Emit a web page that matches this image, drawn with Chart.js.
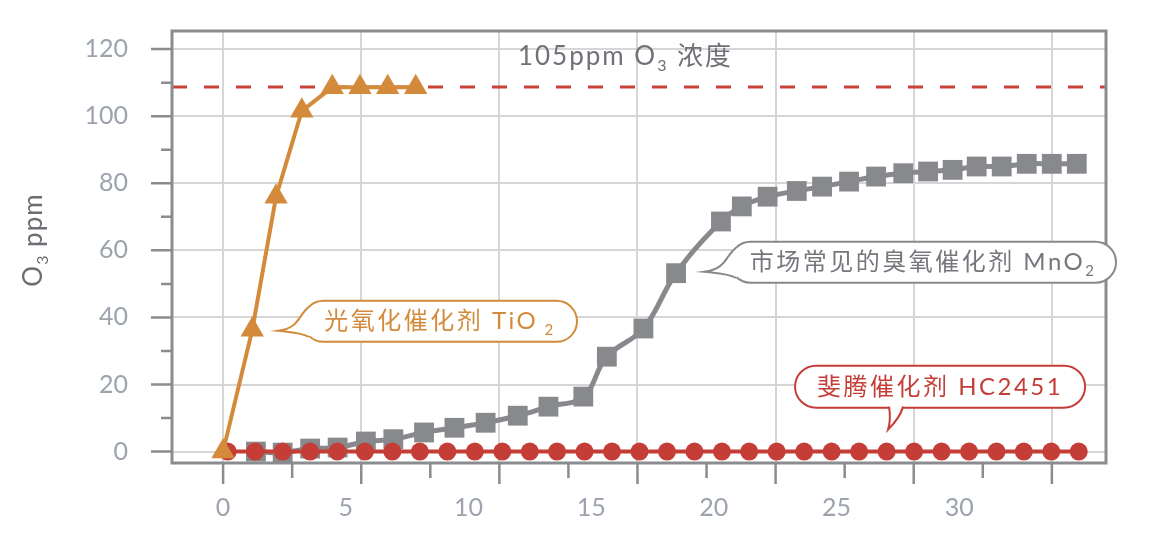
<!DOCTYPE html>
<html>
<head>
<meta charset="utf-8">
<script src="https://cdn.jsdelivr.net/npm/chart.js@4.4.1/dist/chart.umd.min.js"></script>
<style>
  html, body { margin: 0; padding: 0; background: #fff; }
</style>
</head>
<body>
<canvas id="o3Chart" width="1150" height="548"></canvas>
<script>
// tick labels (x labels and the grid lines use different spacings in the original)
const xTickLabels = [0, 5, 10, 15, 20, 25, 30];
const yTickLabels = [0, 20, 40, 60, 80, 100, 120];
const gridSteps = [0, 5, 10, 15, 20, 25, 30];

// 光氧化催化剂 TiO2
const tioX = [0, 1.19, 2.16, 3.21, 4.45, 5.58, 6.71, 7.85];
const tioY = [0, 36.3, 76.0, 101.6, 108.6, 108.6, 108.6, 108.6];

// 市场常见的臭氧催化剂 MnO2
const mnoX = [1.34, 2.43, 3.55, 4.67, 5.82, 6.94, 8.19, 9.43, 10.70, 12.01, 13.26, 14.68, 15.64, 17.13, 18.46,
              20.29, 21.14, 22.19, 23.38, 24.41, 25.51, 26.61, 27.72, 28.73, 29.73, 30.71, 31.73, 32.75, 33.77, 34.79];
const mnoY = [0, -0.3, 0.9, 1.2, 3.0, 3.7, 5.7, 7.1, 8.6, 10.7, 13.4, 16.4, 28.3, 36.7, 53.2,
              68.6, 73.1, 76.0, 77.7, 79.0, 80.5, 82.0, 83.0, 83.5, 84.0, 85.0, 85.0, 85.8, 85.8, 85.8];

// 斐腾催化剂 HC2451
const hcX = [0.19, 1.31, 2.43, 3.55, 4.66, 5.78, 6.90, 8.02, 9.14, 10.26, 11.38, 12.50, 13.61, 14.73, 15.85, 16.97,
             18.09, 19.21, 20.33, 21.44, 22.56, 23.68, 24.80, 25.92, 27.04, 28.16, 29.28, 30.40, 31.52, 32.63, 33.75, 34.87];
const hcY = [0, 0, 0, 0, 0, 0, 0, 0, 0, 0, 0, 0, 0, 0, 0, 0,
             0, 0, 0, 0, 0, 0, 0, 0, 0, 0, 0, 0, 0, 0, 0, 0];

const limitValue = 108.7; // 105ppm O3 浓度

const FONT = "Lato, 'Noto Sans CJK SC', sans-serif";
const AXIS_GREY = '#8b8c90';
const GRID_GREY = '#d6d6d6';
const ORANGE = '#d38b3b';
const RED = '#c53d37';
const GREY = '#88898d';

const callouts = [
  { parts: [['光氧化催化剂 TiO', 0], [' 2', 1]], color: ORANGE, at: [2.24, 36.0], dx: 25, dy: -30, w: 274, h: 41, tail: 'left' },
  { parts: [['市场常见的臭氧催化剂 MnO', 0], ['2', 1]], color: '#75777c', border: GREY, at: [19.6, 53.6], dx: 26, dy: -30, w: 386, h: 41, tail: 'left' },
  { parts: [['斐腾催化剂 HC2451', 0]], color: RED, at: [27.1, 6.55], dx: -93, dy: -64, w: 290, h: 42, tail: 'bottom' }
];

const toPoints = (xs, ys) => xs.map((x, i) => ({ x: x, y: ys[i] }));

function drawRich(ctx, parts, x, y, size, align) {
  const subSize = Math.round(size * 0.62);
  const widths = parts.map(([t, sub]) => {
    ctx.font = (sub ? subSize : size) + 'px ' + FONT;
    return ctx.measureText(t).width;
  });
  const total = widths.reduce((a, b) => a + b, 0);
  let cx = align === 'center' ? x - total / 2 : x;
  ctx.textAlign = 'left';
  ctx.textBaseline = 'alphabetic';
  parts.forEach(([t, sub], i) => {
    ctx.font = (sub ? subSize : size) + 'px ' + FONT;
    ctx.fillText(t, cx, y + (sub ? size * 0.22 : 0));
    cx += widths[i];
  });
}

function tailPath(ctx, c, bx, by, tx, ty) {
  if (c.tail === 'left') {
    ctx.moveTo(bx + 6, by + 6);
    ctx.bezierCurveTo(bx - 5, by + 14, bx - 3, by + 27, tx, ty);
    ctx.bezierCurveTo(tx + 14, ty + 1.5, bx - 3, ty + 1.5, bx + 6, by + c.h - 5);
  } else {
    const base = by + c.h;
    ctx.moveTo(tx + 1, base - 1);
    ctx.quadraticCurveTo(tx + 3, ty - 10, tx, ty);
    ctx.quadraticCurveTo(tx + 12, ty - 12, tx + 15, base - 1);
  }
}

function drawCallout(ctx, c, tx, ty) {
  const bx = tx + c.dx, by = ty + c.dy, w = c.w, h = c.h, r = h / 2;
  const edge = c.border || c.color;
  ctx.save();
  ctx.lineWidth = 2;
  ctx.strokeStyle = edge;
  ctx.fillStyle = '#fff';
  ctx.beginPath();
  ctx.moveTo(bx + r, by);
  ctx.lineTo(bx + w - r, by);
  ctx.arc(bx + w - r, by + r, r, -Math.PI / 2, Math.PI / 2);
  ctx.lineTo(bx + r, by + h);
  ctx.arc(bx + r, by + r, r, Math.PI / 2, Math.PI * 1.5);
  ctx.closePath();
  ctx.fill();
  ctx.stroke();

  // white patch so the tail joins the pill
  ctx.beginPath();
  tailPath(ctx, c, bx, by, tx, ty);
  if (c.tail === 'left') ctx.lineTo(bx + 20, by + h / 2);
  else ctx.lineTo(tx + 8, by + h - 8);
  ctx.closePath();
  ctx.fill();
  ctx.beginPath();
  tailPath(ctx, c, bx, by, tx, ty);
  ctx.stroke();

  ctx.fillStyle = c.color;
  ctx.letterSpacing = '2.5px';
  drawRich(ctx, c.parts, bx + w / 2, by + h / 2 + 8, 24, 'center');
  ctx.restore();
}

const decorPlugin = {
  id: 'decor',
  beforeDatasetsDraw(chart) {
    const { ctx, chartArea: a, scales } = chart;
    const y = scales.y, xg = scales.xg;
    ctx.save();
    // 105ppm reference line
    const ly = y.getPixelForValue(limitValue);
    ctx.strokeStyle = '#c8423c';
    ctx.lineWidth = 3;
    ctx.setLineDash([15, 17]);
    ctx.beginPath();
    ctx.moveTo(a.left, ly);
    ctx.lineTo(a.right, ly);
    ctx.stroke();
    ctx.setLineDash([]);

    // frame
    ctx.strokeStyle = AXIS_GREY;
    ctx.lineWidth = 3;
    ctx.strokeRect(a.left, a.top, a.right - a.left, a.bottom - a.top);

    // tick marks, major + minor
    ctx.lineWidth = 2.5;
    ctx.beginPath();
    yTickLabels.forEach((v, i) => {
      const p = y.getPixelForValue(v);
      ctx.moveTo(a.left - 21, p); ctx.lineTo(a.left, p);
      if (i > 0) {
        const m = y.getPixelForValue((v + yTickLabels[i - 1]) / 2);
        ctx.moveTo(a.left - 11, m); ctx.lineTo(a.left, m);
      }
    });
    gridSteps.forEach((v, i) => {
      const p = xg.getPixelForValue(v);
      ctx.moveTo(p, a.bottom); ctx.lineTo(p, a.bottom + 21);
      if (i > 0) {
        const m = xg.getPixelForValue((v + gridSteps[i - 1]) / 2);
        ctx.moveTo(m, a.bottom); ctx.lineTo(m, a.bottom + 15);
      }
    });
    ctx.stroke();
    ctx.restore();
  },
  afterDatasetsDraw(chart) {
    const { ctx, chartArea: a, scales } = chart;
    ctx.save();
    // label of the dashed line
    ctx.fillStyle = '#6e7177';
    ctx.letterSpacing = '2px';
    drawRich(ctx, [['105ppm O', 0], ['3', 1], [' 浓度', 0]], scales.x.getPixelForValue(16.4), a.top + 34, 26, 'center');

    // y axis title
    ctx.letterSpacing = '1px';
    ctx.translate(42, (a.top + a.bottom) / 2 - 7);
    ctx.rotate(-Math.PI / 2);
    ctx.fillStyle = '#6b6e73';
    drawRich(ctx, [['O', 0], ['3', 1], [' ppm', 0]], 0, 0, 26, 'center');
    ctx.restore();

    callouts.forEach(c => {
      drawCallout(ctx, c, scales.x.getPixelForValue(c.at[0]), scales.y.getPixelForValue(c.at[1]));
    });
  }
};

const tickFont = { family: FONT, size: 25 };

new Chart(document.getElementById('o3Chart').getContext('2d'), {
  type: 'line',
  data: {
    datasets: [{
      label: '光氧化催化剂 TiO2',
      data: toPoints(tioX, tioY),
      xAxisID: 'x',
      borderColor: ORANGE,
      backgroundColor: ORANGE,
      borderWidth: 4,
      pointStyle: 'triangle',
      pointRadius: 13.5,
      pointBorderWidth: 0,
      tension: 0
    }, {
      label: '斐腾催化剂 HC2451',
      data: toPoints(hcX, hcY),
      xAxisID: 'x',
      borderColor: RED,
      backgroundColor: RED,
      borderWidth: 4,
      pointStyle: 'circle',
      pointRadius: 9,
      pointBorderWidth: 0,
      tension: 0
    }, {
      label: '市场常见的臭氧催化剂 MnO2',
      data: toPoints(mnoX, mnoY),
      xAxisID: 'x',
      borderColor: GREY,
      backgroundColor: GREY,
      borderWidth: 5,
      pointStyle: 'rect',
      pointRadius: 14,
      pointBorderWidth: 0,
      tension: 0.4
    }]
  },
  options: {
    responsive: false,
    animation: false,
    devicePixelRatio: 1,
    layout: { padding: { left: 0, right: 44, top: 31, bottom: 0 } },
    plugins: { legend: { display: false }, tooltip: { enabled: false } },
    scales: {
      xg: {
        type: 'linear', position: 'bottom', weight: 0,
        min: -1.85, max: 31.96,
        afterBuildTicks: s => { s.ticks = gridSteps.map(v => ({ value: v })); },
        grid: { color: GRID_GREY, lineWidth: 2, drawTicks: false },
        border: { display: false },
        ticks: { display: false },
        afterFit: s => { s.height = 0; s.paddingLeft = 0; s.paddingRight = 0; }
      },
      x: {
        type: 'linear', position: 'bottom', weight: 1,
        min: -2.08, max: 35.98,
        afterBuildTicks: s => { s.ticks = xTickLabels.map(v => ({ value: v })); },
        grid: { display: false },
        border: { display: false },
        ticks: { color: '#9ca3ad', font: tickFont, padding: 22, autoSkip: false, maxRotation: 0 },
        afterFit: s => { s.height = 85; s.paddingLeft = 0; s.paddingRight = 0; }
      },
      y: {
        type: 'linear',
        min: -3.4, max: 125.4,
        afterBuildTicks: s => { s.ticks = yTickLabels.map(v => ({ value: v })); },
        grid: { color: GRID_GREY, lineWidth: 2, drawTicks: false },
        border: { display: false },
        ticks: { color: '#9ca3ad', font: tickFont, padding: 44 },
        afterFit: s => { s.width = 172; s.paddingTop = 0; s.paddingBottom = 0; }
      }
    }
  },
  plugins: [decorPlugin]
});
</script>
</body>
</html>
